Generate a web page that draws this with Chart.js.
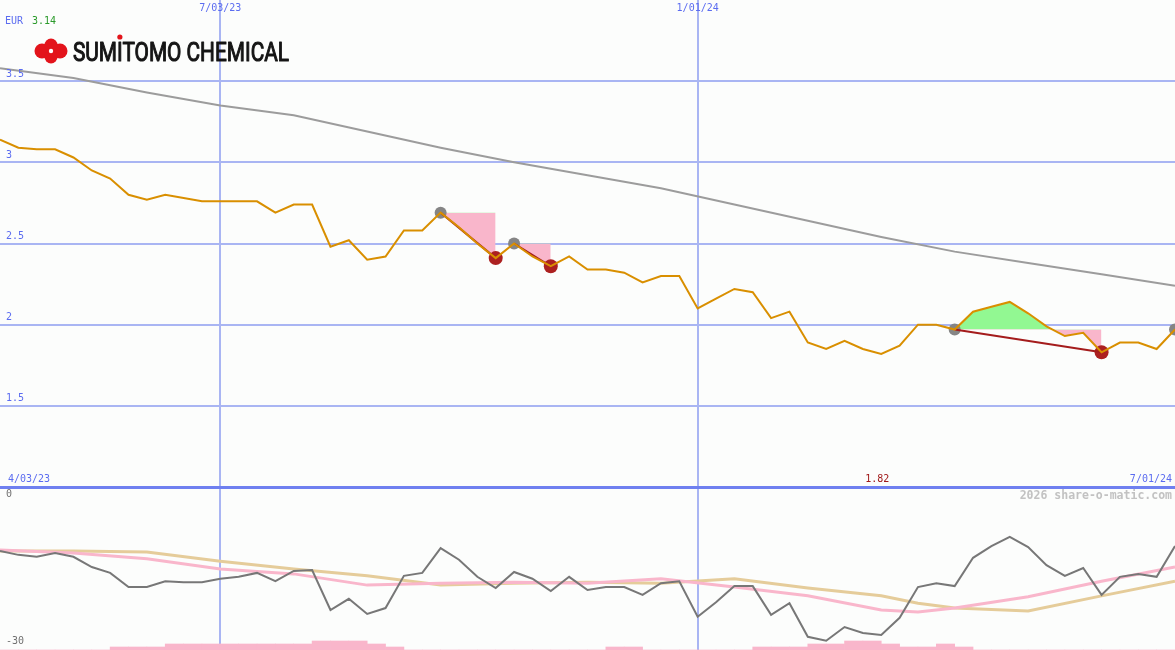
<!DOCTYPE html>
<html>
<head>
<meta charset="utf-8">
<script src="https://cdn.jsdelivr.net/npm/chart.js@4.4.1/dist/chart.umd.min.js"></script>
<style>
body { margin: 0; background: #fcfdfc; }
#wrap { position: relative; width: 1175px; height: 650px; overflow: hidden; }
#top { position: absolute; left: 0; top: 0; }
#bottom { position: absolute; left: 0; top: 486px; }
</style>
</head>
<body>
<div id="wrap">
  <canvas id="top" width="1175" height="487"></canvas>
  <canvas id="bottom" width="1175" height="164"></canvas>
</div>
<script>
// weekly closes, week 0 = 10 Apr 2023, week 64 = 1 Jul 2024
var price = [3.14, 3.09, 3.08, 3.08, 3.03, 2.95, 2.90, 2.80, 2.77, 2.80,
  2.78, 2.76, 2.76, 2.76, 2.76, 2.69, 2.74, 2.74, 2.48, 2.52,
  2.40, 2.42, 2.58, 2.58, 2.69, 2.60, 2.50, 2.41, 2.50, 2.42,
  2.36, 2.42, 2.34, 2.34, 2.32, 2.26, 2.30, 2.30, 2.10, 2.16,
  2.22, 2.20, 2.04, 2.08, 1.89, 1.85, 1.90, 1.85, 1.82, 1.87,
  2.00, 2.00, 1.97, 2.08, 2.11, 2.14, 2.07, 1.99, 1.93, 1.95,
  1.83, 1.89, 1.89, 1.85, 1.97];

// long moving average (grey)
var avgWeeks = [0, 4, 8, 12, 16, 20, 24, 28, 32, 36, 40, 44, 48, 52, 56, 60, 64];
var priceAvg = [3.58, 3.52, 3.43, 3.35, 3.29, 3.19, 3.09, 3.00, 2.92, 2.84, 2.74, 2.64, 2.54, 2.45, 2.38, 2.31, 2.24];

// signals: grey dot -> red dot
var signalFrom = [24, 28, 52];
var signalTo = [27, 30, 60];
var openSignal = 64;

// lower panel
var momentum = [-10.7, -11.5, -11.9, -11.1, -11.9, -14.0, -15.2, -18.1, -18.1, -16.9,
  -17.1, -17.1, -16.4, -16.0, -15.2, -16.9, -14.8, -14.6, -22.8, -20.5,
  -23.6, -22.4, -15.8, -15.2, -10.1, -12.5, -16.0, -18.3, -15.0, -16.4,
  -18.9, -16.0, -18.7, -18.1, -18.1, -19.7, -17.3, -16.9, -24.2, -21.2,
  -17.9, -17.9, -23.8, -21.4, -28.3, -29.1, -26.3, -27.5, -27.9, -24.4,
  -18.1, -17.3, -17.9, -12.1, -9.7, -7.8, -9.9, -13.6, -15.8, -14.2,
  -19.7, -16.0, -15.4, -16.0, -9.7];
var oscWeeks = [0, 4, 8, 12, 16, 20, 24, 28, 32, 36, 40, 44, 48, 50, 52, 56, 60, 64];
var oscFast = [-10.5, -11.1, -12.3, -14.4, -15.4, -17.7, -17.3, -17.1, -17.3, -16.4, -18.1, -19.9, -22.8, -23.2, -22.4, -20.1, -16.9, -14.0];
var oscSlow = [-10.7, -10.7, -10.9, -12.8, -14.4, -15.8, -17.7, -17.3, -17.1, -17.3, -16.4, -18.3, -19.9, -21.4, -22.4, -23.0, -19.9, -16.9];
var volumeLevels = [0, 0, 0, 0, 0, 0, 1, 1, 1, 2, 2, 2, 2, 2, 2, 2, 2, 3, 3, 3,
  2, 1, 0, 0, 0, 0, 0, 0, 0, 0, 0, 0, 0, 1, 1, 0, 0, 0, 0, 0,
  0, 1, 1, 1, 2, 2, 3, 3, 2, 1, 1, 2, 1, 0, 0, 0, 0, 0, 0, 0,
  0, 0, 0, 0];

// axis labels
var dateTicks = [12, 38];
var dateLabels = ["7/03/23", "1/01/24"];
var startLabel = "4/03/23";
var endLabel = "7/01/24";
var priceTicks = [1.5, 2, 2.5, 3, 3.5];
var priceTickLabels = ["1.5", "2", "2.5", "3", "3.5"];
var oscTicks = [0, -30];
var oscTickLabels = ["0", "-30"];

var GRID = '#a9b5f3';
var LABEL = '#5b6cf0';
var MONO = '10px "DejaVu Sans Mono"';

function xy(xs, ys) {
  return xs.map(function (x, i) { return { x: x, y: ys[i] }; });
}
function pt(i) { return { x: i, y: price[i] }; }

var priceDatasets = [];
priceDatasets.push({
  data: xy(avgWeeks, priceAvg), borderColor: '#9c9c9c', borderWidth: 2, order: 6
});
signalFrom.forEach(function (s, k) {
  var e = signalTo[k];
  var level = [], seg = [];
  for (var i = s; i <= e; i++) {
    level.push({ x: i, y: price[s] });
    seg.push(pt(i));
  }
  var levelIndex = priceDatasets.length;
  priceDatasets.push({ data: level, borderWidth: 0, borderColor: 'rgba(0,0,0,0)', order: 5 });
  priceDatasets.push({
    data: seg, borderWidth: 0, borderColor: 'rgba(0,0,0,0)', order: 5,
    fill: { target: levelIndex, above: '#92f892', below: '#f9b6cb' }
  });
  priceDatasets.push({ data: [pt(s), pt(e)], borderColor: '#a41c1c', borderWidth: 2, order: 2 });
});
priceDatasets.push({
  data: signalFrom.concat([openSignal]).map(pt), showLine: false,
  pointRadius: 6, pointBackgroundColor: '#858585', pointBorderWidth: 0, order: 3
});
priceDatasets.push({
  data: signalTo.map(pt), showLine: false,
  pointRadius: 7, pointBackgroundColor: '#ac2020', pointBorderWidth: 0, order: 3
});
priceDatasets.push({
  data: price.map(function (p, i) { return pt(i); }), borderColor: '#d98f00', borderWidth: 2, order: 0
});

function drawLogo(c) {
  c.fillStyle = '#e3141b';
  [[42, 51, 7.5], [60, 51, 7.5], [51, 45, 6.5], [51, 57, 6.5]].forEach(function (p) {
    c.beginPath(); c.arc(p[0], p[1], p[2], 0, Math.PI * 2); c.fill();
  });
  c.fillStyle = '#ffffff';
  c.beginPath(); c.arc(51, 51, 2.2, 0, Math.PI * 2); c.fill();

  var t = 'SUMITOMO CHEMICAL';
  c.font = '26px Roboto, "Liberation Sans"';
  c.textAlign = 'left'; c.textBaseline = 'alphabetic';
  var w = c.measureText(t).width;
  var sc = Math.min(1, 216 / w);
  var pre = c.measureText('SUM').width, iw = c.measureText('I').width;
  c.save();
  c.translate(73, 61); c.scale(sc, 1);
  c.fillStyle = '#151515';
  c.strokeStyle = '#151515';
  c.lineWidth = 1.1;
  c.lineJoin = 'round';
  c.fillText(t, 0, 0);
  c.strokeText(t, 0, 0);
  c.restore();
  c.fillStyle = '#e3141b';
  c.beginPath(); c.arc(73 + (pre + iw / 2) * sc, 37, 2.6, 0, Math.PI * 2); c.fill();
}

var topText = {
  id: 'topText',
  afterDraw: function (chart) {
    var c = chart.ctx, xs = chart.scales.x, ys = chart.scales.y;
    c.save();
    c.font = MONO;
    c.fillStyle = LABEL;
    c.textAlign = 'left'; c.textBaseline = 'bottom';
    priceTicks.forEach(function (v, k) {
      c.fillText(priceTickLabels[k], 6, ys.getPixelForValue(v) - 2);
    });
    c.textAlign = 'center'; c.textBaseline = 'top';
    dateTicks.forEach(function (w, k) {
      c.fillText(dateLabels[k], xs.getPixelForValue(w), 3);
    });
    c.textBaseline = 'bottom';
    c.textAlign = 'left';
    c.fillText(startLabel, 8, 484);
    c.textAlign = 'right';
    c.fillText(endLabel, 1172, 484);

    var lo = Math.min.apply(null, price);
    c.fillStyle = '#a01818';
    c.textAlign = 'center';
    c.fillText(lo.toFixed(2), xs.getPixelForValue(price.indexOf(lo)) - 4, 484);

    c.textAlign = 'left'; c.textBaseline = 'middle';
    c.fillStyle = LABEL;
    c.fillText('EUR', 5, 21);
    c.fillStyle = '#2a9a2a';
    c.fillText(price[0].toFixed(2), 32, 21);

    drawLogo(c);
    c.restore();
  }
};

new Chart(document.getElementById('top'), {
  type: 'line',
  data: { datasets: priceDatasets },
  options: {
    responsive: false,
    animation: false,
    events: [],
    layout: { padding: 0, autoPadding: false },
    elements: { point: { radius: 0 }, line: { tension: 0 } },
    plugins: { legend: { display: false }, tooltip: { enabled: false } },
    scales: {
      x: {
        type: 'linear', min: 0, max: 64, offset: false,
        ticks: { display: false },
        border: { display: false },
        grid: { color: GRID, lineWidth: 2, drawTicks: false, offset: false },
        afterBuildTicks: function (axis) {
          axis.ticks = dateTicks.map(function (v) { return { value: v }; });
        }
      },
      y: {
        type: 'linear', min: 1, max: 4,
        ticks: { display: false },
        border: { display: false },
        grid: { color: GRID, lineWidth: 2, drawTicks: false },
        afterBuildTicks: function (axis) {
          axis.ticks = priceTicks.map(function (v) { return { value: v }; });
        }
      }
    }
  },
  plugins: [topText]
});

var bottomText = {
  id: 'bottomText',
  afterDraw: function (chart) {
    var c = chart.ctx, ys = chart.scales.y;
    c.save();
    c.fillStyle = '#6f80f0';
    c.fillRect(0, 0, 1175, 3);
    c.font = MONO;
    c.fillStyle = '#707070';
    c.textAlign = 'left'; c.textBaseline = 'bottom';
    oscTicks.forEach(function (v, k) {
      c.fillText(oscTickLabels[k], 6, ys.getPixelForValue(v) + 1);
    });
    c.font = 'bold 11.5px "DejaVu Sans Mono"';
    c.fillStyle = '#c2c2c2';
    c.textAlign = 'right'; c.textBaseline = 'middle';
    c.fillText('2026 share-o-matic.com', 1172, 10);
    c.restore();
  }
};

new Chart(document.getElementById('bottom'), {
  type: 'line',
  data: {
    datasets: [
      {
        type: 'bar', yAxisID: 'yb', order: 9,
        data: volumeLevels.map(function (v, i) { return { x: i + 0.5, y: v }; }),
        backgroundColor: '#f9b6cb', borderWidth: 0,
        barPercentage: 1, categoryPercentage: 1
      },
      { data: xy(oscWeeks, oscSlow), borderColor: '#e5cc9a', borderWidth: 3, order: 3 },
      { data: xy(oscWeeks, oscFast), borderColor: '#f9b6cb', borderWidth: 3, order: 2 },
      { data: momentum.map(function (v, i) { return { x: i, y: v }; }), borderColor: '#777777', borderWidth: 2, order: 1 }
    ]
  },
  options: {
    responsive: false,
    animation: false,
    events: [],
    layout: { padding: { top: 3, left: 0, right: 0, bottom: 0 }, autoPadding: false },
    elements: { point: { radius: 0 }, line: { tension: 0 } },
    plugins: { legend: { display: false }, tooltip: { enabled: false } },
    scales: {
      x: {
        type: 'linear', min: 0, max: 64, offset: false,
        ticks: { display: false },
        border: { display: false },
        grid: { color: GRID, lineWidth: 2, drawTicks: false, offset: false },
        afterBuildTicks: function (axis) {
          axis.ticks = dateTicks.map(function (v) { return { value: v }; });
        }
      },
      y: {
        type: 'linear', min: -31, max: 2,
        display: false
      },
      yb: {
        type: 'linear', min: 0, max: 161 / 3,
        display: false
      }
    }
  },
  plugins: [bottomText]
});
</script>
</body>
</html>
